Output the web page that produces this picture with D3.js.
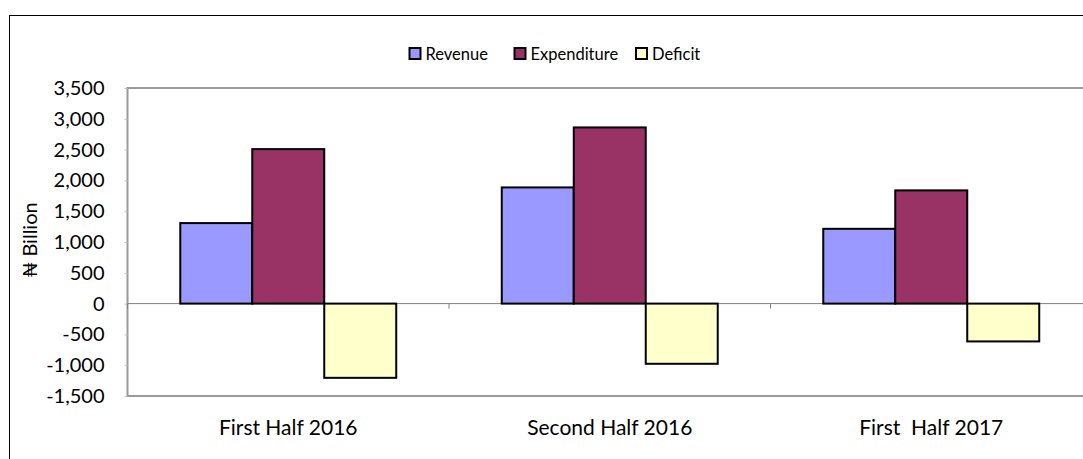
<!DOCTYPE html>
<html>
<head>
<meta charset="utf-8">
<script src="https://cdn.jsdelivr.net/npm/d3@7"></script>
<style>
  body { margin: 0; background: #fff; }
  svg text { font-family: Lato, "Liberation Sans", sans-serif; fill: #000; }
</style>
</head>
<body>
<svg id="chart" width="1083" height="459"></svg>
<script>
var categories = ['First Half 2016', 'Second Half 2016', 'First  Half 2017'];
var seriesNames = ['Revenue', 'Expenditure', 'Deficit'];
var revenue = [1307, 1886, 1214];
var expenditure = [2508, 2860, 1838];
var deficit = [-1205, -977, -614];
var yTicks = [-1500, -1000, -500, 0, 500, 1000, 1500, 2000, 2500, 3000, 3500];
var colors = ['#9999ff', '#993366', '#ffffcc'];

var values = [revenue, expenditure, deficit];
var svg = d3.select('#chart');

// outer chart frame (runs off the right/bottom of the picture)
svg.append('rect')
  .attr('x', 9.5).attr('y', 15.5)
  .attr('width', 1200).attr('height', 600)
  .attr('fill', 'none').attr('stroke', '#000').attr('stroke-width', 1);

var plot = { left: 127.5, right: 1092, top: 88, bottom: 396 };

var x = d3.scaleBand()
  .domain(categories)
  .range([plot.left, plot.right]);

var xSub = d3.scaleBand()
  .domain(seriesNames)
  .range([0, x.bandwidth()])
  .paddingInner(0)
  .paddingOuter(0.733);

var y = d3.scaleLinear()
  .domain([-1500, 3500])
  .range([plot.bottom, plot.top]);

// plot area border
svg.append('rect')
  .attr('x', plot.left).attr('y', plot.top)
  .attr('width', plot.right - plot.left).attr('height', plot.bottom - plot.top)
  .attr('fill', 'none').attr('stroke', '#9a9a9a').attr('stroke-width', 2);

var fmt = d3.formatLocale({ decimal: '.', thousands: ',', grouping: [3], currency: ['', ''], minus: '-' }).format(',');

var yAxis = svg.append('g')
  .attr('transform', 'translate(' + plot.left + ',0)')
  .call(d3.axisLeft(y).tickValues(yTicks).tickFormat(fmt).tickSize(3).tickPadding(20));
yAxis.select('.domain').remove();
yAxis.selectAll('line').attr('stroke', '#c0c0c0');
yAxis.selectAll('text').style('font-size', '20px').attr('fill', '#000');

// zero line + category ticks
svg.append('line')
  .attr('x1', plot.left).attr('x2', plot.right)
  .attr('y1', y(0)).attr('y2', y(0))
  .attr('stroke', '#808080').attr('stroke-width', 1);

var boundaries = categories.map(function(c) { return x(c); });
svg.selectAll('.ctick')
  .data(boundaries)
  .enter()
  .append('line')
    .attr('x1', d => d).attr('x2', d => d)
    .attr('y1', y(0)).attr('y2', y(0) + 5)
    .attr('stroke', '#808080');

// bars
var groups = svg.selectAll('.grp')
  .data(categories)
  .enter()
  .append('g')
    .attr('transform', d => 'translate(' + x(d) + ',0)');

groups.selectAll('rect')
  .data(function(c, i) {
    return seriesNames.map(function(s, j) { return { s: s, v: values[j][i], c: colors[j] }; });
  })
  .enter()
  .append('rect')
    .attr('x', d => xSub(d.s))
    .attr('width', xSub.bandwidth())
    .attr('y', d => y(Math.max(0, d.v)))
    .attr('height', d => Math.abs(y(d.v) - y(0)))
    .attr('fill', d => d.c)
    .attr('stroke', '#000')
    .attr('stroke-width', 2);

// category labels
svg.selectAll('.clabel')
  .data(categories)
  .enter()
  .append('text')
    .attr('x', d => x(d) + x.bandwidth() / 2)
    .attr('y', 435)
    .attr('text-anchor', 'middle')
    .style('font-size', '21px')
    .style('white-space', 'pre')
    .text(d => d);

// y axis title
svg.append('text')
  .attr('transform', 'translate(37,240) rotate(-90)')
  .attr('text-anchor', 'middle')
  .style('font-size', '20px')
  .text('₦ Billion');

// legend
var legendX = [409.5, 514.5, 636];
var legend = svg.selectAll('.leg')
  .data(seriesNames)
  .enter()
  .append('g')
    .attr('transform', (d, i) => 'translate(' + legendX[i] + ',48)');
legend.append('rect')
  .attr('width', 11).attr('height', 11)
  .attr('fill', (d, i) => colors[i])
  .attr('stroke', '#000').attr('stroke-width', 2);
legend.append('text')
  .attr('x', 16).attr('y', 11.5)
  .style('font-size', '16.5px')
  .text(d => d);
</script>
</body>
</html>
